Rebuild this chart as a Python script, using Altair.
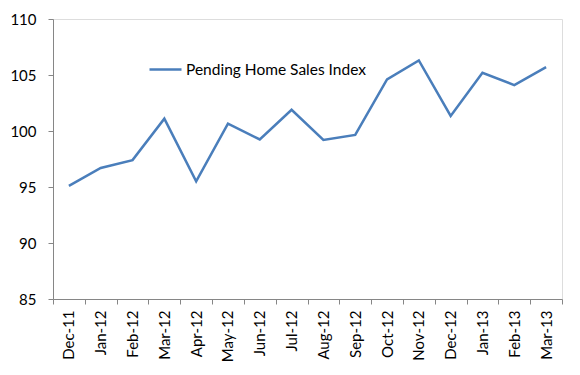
import altair as alt
import pandas as pd

months = ["Dec-11", "Jan-12", "Feb-12", "Mar-12", "Apr-12", "May-12", "Jun-12", "Jul-12",
          "Aug-12", "Sep-12", "Oct-12", "Nov-12", "Dec-12", "Jan-13", "Feb-13", "Mar-13"]
values = [95.1, 96.7, 97.4, 101.1, 95.5, 100.65, 99.25, 101.9,
          99.2, 99.65, 104.6, 106.3, 101.35, 105.2, 104.1, 105.7]
series = "Pending Home Sales Index"

df = pd.DataFrame({"month": months, "value": values, "series": [series] * len(months)})

FONT = "Lato"

chart = alt.Chart(df).mark_line(strokeWidth=2.5).encode(
    x=alt.X("month:N", sort=months, title=None,
            scale=alt.Scale(type="band", paddingInner=0, paddingOuter=0),
            axis=alt.Axis(labelAngle=270, tickBand="extent", labelFontSize=15,
                          labelFont=FONT, labelColor="#000000", domainColor="#868686",
                          tickColor="#868686", tickSize=5, labelPadding=6, grid=False)),
    y=alt.Y("value:Q", title=None,
            scale=alt.Scale(domain=[85, 110], nice=False, zero=False),
            axis=alt.Axis(values=[85, 90, 95, 100, 105, 110], labelFontSize=15, labelFont=FONT,
                          labelColor="#000000", domainColor="#868686", tickColor="#868686",
                          tickSize=5, labelPadding=12, grid=False)),
    color=alt.Color("series:N", scale=alt.Scale(range=["#4A7EBB"]),
                    legend=alt.Legend(title=None, orient="none", legendX=95, legendY=33,
                                      symbolType="stroke", symbolSize=1024, symbolStrokeWidth=2.5,
                                      labelFontSize=15.5, labelFont=FONT, labelColor="#000000",
                                      labelOffset=3, labelLimit=0, padding=0)),
).properties(
    width=509, height=280,
    autosize=alt.AutoSizeParams(type="none"),
    padding={"left": 45, "top": 11, "right": 10, "bottom": 68},
).configure_view(stroke=None).configure(background="white")

chart.save("out.html", embed_options={"renderer": "svg", "actions": False})
